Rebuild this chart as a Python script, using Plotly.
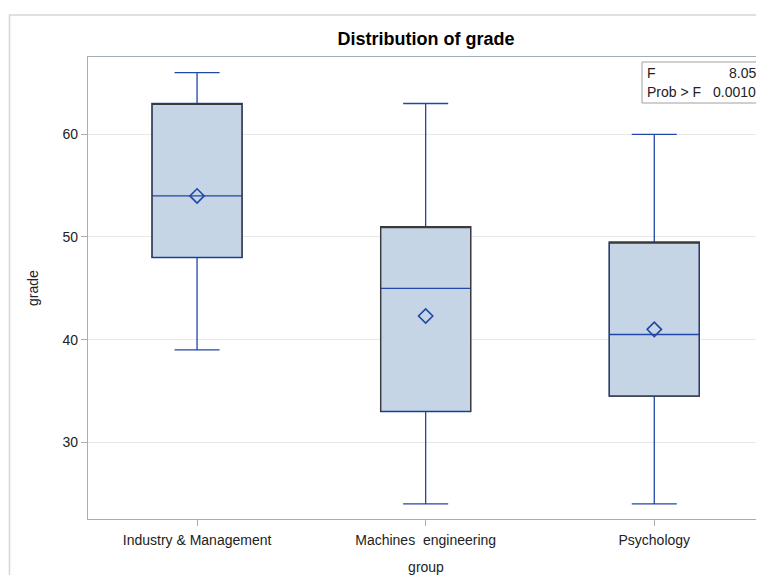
import plotly.graph_objects as go

groups = ["Industry & Management", "Machines  engineering", "Psychology"]
q1 = [48, 33, 34.5]
median = [54, 45, 40.5]
q3 = [63, 51, 49.5]
lower = [39, 24, 24]
upper = [66, 63, 60]
means = [54.0, 42.3, 41.0]
f_value = "8.05"
p_value = "0.0010"

blue = "#2147A8"
fill = "#C6D5E6"
font = "Liberation Sans, Arial, sans-serif"
txt = "#222222"

# page body has an 8px margin: figure is drawn smaller and shifted
W, H = 756, 567
L, T, B = 80, 49, 56

fig = go.Figure()
fig.add_trace(go.Box(
    x=groups, q1=q1, median=median, q3=q3, lowerfence=lower, upperfence=upper,
    boxpoints=False, width=0.394, whiskerwidth=0.5,
    line=dict(color=blue, width=1.3), fillcolor=fill, showlegend=False,
))
# dark outline of the boxes (drawn over the blue box edges)
fig.add_trace(go.Box(
    x=groups, q1=q1, median=q3, q3=q3, lowerfence=q1, upperfence=q3,
    boxpoints=False, width=0.394, whiskerwidth=0,
    line=dict(color="#3a3a3a", width=1.2), fillcolor="rgba(0,0,0,0)",
    showlegend=False, hoverinfo="skip",
))
fig.add_trace(go.Scatter(
    x=groups, y=means, mode="markers",
    marker=dict(symbol="diamond-open", size=11, color=blue, line=dict(width=1.6, color=blue)),
    showlegend=False,
))

pw, ph = W - L, H - T - B


def px(x):
    return (x - 8 - L) / pw


def py(y):
    return 1 - (y - 8 - T) / ph


fig.update_layout(
    width=W, height=H,
    margin=dict(l=L, r=0, t=T, b=B),
    paper_bgcolor="white", plot_bgcolor="white",
    font=dict(family=font, size=14, color=txt),
    title=dict(text="<b>Distribution of grade</b>", x=(426 - 8) / W, xanchor="center",
               y=1 - (39 - 8) / H, yanchor="middle", font=dict(size=18, color="#000")),
    xaxis=dict(
        type="category", range=[-0.477, 2.48],
        showline=True, linecolor="#A5ADB4", linewidth=1.3, mirror=True,
        ticks="outside", ticklen=6, tickcolor="#A5ADB4", ticklabelstandoff=2,
        showgrid=False, zeroline=False,
        title=dict(text="group", standoff=15, font=dict(size=14)),
        tickfont=dict(size=14),
    ),
    yaxis=dict(
        range=[22.53, 67.53], tickvals=[30, 40, 50, 60],
        showline=True, linecolor="#A5ADB4", linewidth=1.3,
        ticks="outside", ticklen=6, tickcolor="#A5ADB4",
        showgrid=True, gridcolor="#E8E8E8", zeroline=False,
        title=dict(text="grade", standoff=20, font=dict(size=14)),
        tickfont=dict(size=14),
    ),
    shapes=[
        dict(type="rect", xref="paper", yref="paper",
             x0=px(9.5), x1=1.2, y0=-0.3, y1=py(15),
             line=dict(color="#D6D6D6", width=1.5), layer="below"),
        dict(type="rect", xref="paper", yref="paper",
             x0=px(642), x1=px(760), y0=py(103), y1=py(62),
             line=dict(color="#A0A0A0", width=1), fillcolor="white"),
    ],
    annotations=[
        dict(text="F", xref="paper", yref="paper", x=px(645), y=py(73),
             xanchor="left", yanchor="middle", showarrow=False, font=dict(size=14, color=txt)),
        dict(text=f_value, xref="paper", yref="paper", x=px(758), y=py(73),
             xanchor="right", yanchor="middle", showarrow=False, font=dict(size=14, color=txt)),
        dict(text="Prob > F", xref="paper", yref="paper", x=px(645), y=py(92),
             xanchor="left", yanchor="middle", showarrow=False, font=dict(size=14, color=txt)),
        dict(text=p_value, xref="paper", yref="paper", x=px(758), y=py(92),
             xanchor="right", yanchor="middle", showarrow=False, font=dict(size=14, color=txt)),
    ],
)

fig.write_html("out.html")
